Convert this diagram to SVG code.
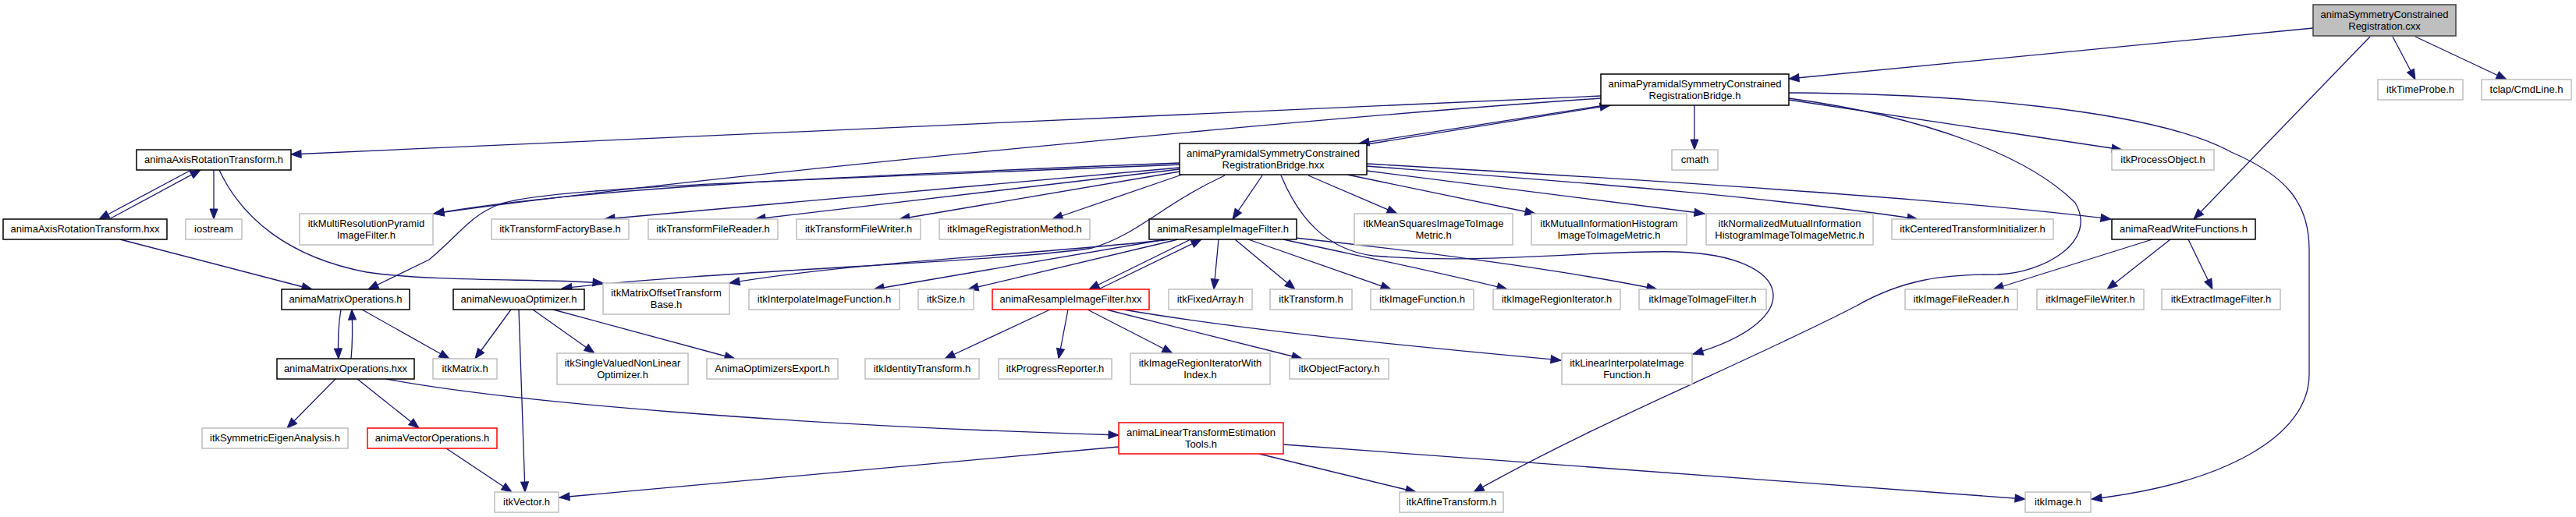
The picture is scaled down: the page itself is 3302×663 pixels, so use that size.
<svg xmlns="http://www.w3.org/2000/svg" width="3302" height="663" viewBox="0 0 3302 663">
<style>
rect{fill:#fff;stroke:#bfbfbf;stroke-width:1.5}
.d rect{stroke:#000}
.r rect{stroke:#ff0000}
.t rect{fill:#bfbfbf;stroke:#404040}
text{font-family:"Liberation Sans",Arial,Helvetica,sans-serif;font-size:13px;fill:#000;text-anchor:middle}
#edges path{fill:none;stroke:#191970;stroke-width:1.3;marker-end:url(#ah)}
</style>
<defs>
<marker id="ah" markerUnits="userSpaceOnUse" markerWidth="14" markerHeight="11" refX="13" refY="5" orient="auto" overflow="visible">
<path d="M0,0 L13,5 L0,10 z" fill="#191970" stroke="#191970" stroke-width="1"/>
</marker>
</defs>
<rect x="0" y="0" width="3302" height="663" style="fill:#fff;stroke:none"/>
<g id="edges">
<path d="M2965,36 L2293,101"/>
<path d="M3038,47 L2812,281"/>
<path d="M3067,47 L3096,102"/>
<path d="M3096,47 L3213,102"/>
<path d="M2052,123 L373,198"/>
<path d="M2052,126 C1700,150 900,225 556,274"/>
<path d="M2172,135 L2172,192"/>
<path d="M2057,135 L1742,184"/>
<path d="M1752,185 L2064,135"/>
<path d="M2293,128 L2720,192"/>
<path d="M2293,126 C2470,150 2600,200 2660,260 C2690,310 2620,350 2560,352 C2490,352 2440,358 2380,392 C2250,460 2050,540 1889,631"/>
<path d="M2293,119 C2500,120 2760,140 2860,195 C2930,225 2960,260 2960,320 L2960,480 C2960,560 2850,620 2681,640"/>
<path d="M1512,209 C1100,225 750,240 556,274"/>
<path d="M1512,211 C1000,232 700,240 640,262 C600,278 590,300 550,333 L472,371"/>
<path d="M1512,215 L775,281"/>
<path d="M1512,217 L968,281"/>
<path d="M1512,220 L1153,281"/>
<path d="M1515,224 L1349,281"/>
<path d="M1618,225 L1580,281"/>
<path d="M1570,225 C1490,262 1460,300 1400,318 C1300,335 900,348 720,370"/>
<path d="M1677,225 L1791,274"/>
<path d="M1727,224 L1968,274"/>
<path d="M1752,219 L2185,274"/>
<path d="M1752,213 C2000,232 2250,250 2458,281"/>
<path d="M1752,210 C2100,230 2500,255 2706,281"/>
<path d="M1642,225 C1665,280 1700,320 1760,328 C1900,340 2050,320 2150,323 C2300,328 2320,410 2170,454"/>
<path d="M245,218 L127,281"/>
<path d="M140,281 L257,218"/>
<path d="M274,218 L274,281"/>
<path d="M281,218 C310,280 370,330 470,349 C560,362 700,357 773,363"/>
<path d="M154,307 L400,371"/>
<path d="M437,397 C433,420 433,440 434,460"/>
<path d="M450,460 C452,440 452,420 451,397"/>
<path d="M464,397 L576,460"/>
<path d="M655,397 L609,460"/>
<path d="M665,397 L673,631"/>
<path d="M683,397 L762,453"/>
<path d="M709,397 L942,460"/>
<path d="M430,486 L368,549"/>
<path d="M458,486 L537,549"/>
<path d="M495,486 C650,515 1000,545 1434,558"/>
<path d="M572,575 L656,631"/>
<path d="M1434,573 L717,638"/>
<path d="M1614,582 L1815,631"/>
<path d="M1645,570 L2596,640"/>
<path d="M1526,307 L1396,371"/>
<path d="M1408,371 L1540,307"/>
<path d="M1500,307 C1350,325 1100,335 935,363"/>
<path d="M1494,307 L1120,371"/>
<path d="M1510,307 L1241,371"/>
<path d="M1562,307 L1556,371"/>
<path d="M1583,307 L1660,371"/>
<path d="M1600,307 L1783,371"/>
<path d="M1645,307 C1750,330 1850,350 1932,371"/>
<path d="M1660,305 C1800,320 2000,345 2124,371"/>
<path d="M1434,396 C1600,425 1850,448 2001,462"/>
<path d="M1346,397 L1211,460"/>
<path d="M1369,397 L1357,460"/>
<path d="M1394,397 L1503,453"/>
<path d="M1418,397 L1669,460"/>
<path d="M2759,307 L2555,371"/>
<path d="M2782,307 L2701,371"/>
<path d="M2805,307 L2836,371"/>
</g>
<g id="n_main" class="t"><rect x="2965" y="6" width="183" height="40"/><text x="3056.5" y="22.5">animaSymmetryConstrained</text><text x="3056.5" y="37.5">Registration.cxx</text></g>
<g id="n_bridge_h" class="d"><rect x="2052" y="95" width="241" height="40"/><text x="2172.5" y="111.5">animaPyramidalSymmetryConstrained</text><text x="2172.5" y="126.5">RegistrationBridge.h</text></g>
<g id="n_timeprobe"><rect x="3048" y="102" width="109" height="26"/><text x="3102.5" y="119">itkTimeProbe.h</text></g>
<g id="n_tclap"><rect x="3181" y="102" width="115" height="26"/><text x="3238.5" y="119">tclap/CmdLine.h</text></g>
<g id="n_bridge_hxx" class="d"><rect x="1512" y="184" width="240" height="40"/><text x="1632" y="200.5">animaPyramidalSymmetryConstrained</text><text x="1632" y="215.5">RegistrationBridge.hxx</text></g>
<g id="n_axisrot_h" class="d"><rect x="175" y="192" width="198" height="26"/><text x="274" y="209">animaAxisRotationTransform.h</text></g>
<g id="n_cmath"><rect x="2143" y="192" width="59" height="26"/><text x="2172.5" y="209">cmath</text></g>
<g id="n_processobject"><rect x="2707" y="192" width="131" height="26"/><text x="2772.5" y="209">itkProcessObject.h</text></g>
<g id="n_axisrot_hxx" class="d"><rect x="4" y="281" width="210" height="26"/><text x="109" y="298">animaAxisRotationTransform.hxx</text></g>
<g id="n_iostream"><rect x="238" y="281" width="72" height="26"/><text x="274" y="298">iostream</text></g>
<g id="n_multires"><rect x="384" y="274" width="171" height="40"/><text x="469.5" y="290.5">itkMultiResolutionPyramid</text><text x="469.5" y="305.5">ImageFilter.h</text></g>
<g id="n_tfactory"><rect x="630" y="281" width="176" height="26"/><text x="718" y="298">itkTransformFactoryBase.h</text></g>
<g id="n_tfreader"><rect x="831" y="281" width="166" height="26"/><text x="914" y="298">itkTransformFileReader.h</text></g>
<g id="n_tfwriter"><rect x="1021" y="281" width="159" height="26"/><text x="1100.5" y="298">itkTransformFileWriter.h</text></g>
<g id="n_imgreg"><rect x="1204" y="281" width="193" height="26"/><text x="1300.5" y="298">itkImageRegistrationMethod.h</text></g>
<g id="n_resample_h" class="d"><rect x="1473" y="281" width="189" height="26"/><text x="1567.5" y="298">animaResampleImageFilter.h</text></g>
<g id="n_meansq"><rect x="1736" y="274" width="203" height="40"/><text x="1837.5" y="290.5">itkMeanSquaresImageToImage</text><text x="1837.5" y="305.5">Metric.h</text></g>
<g id="n_mutual"><rect x="1963" y="274" width="199" height="40"/><text x="2062.5" y="290.5">itkMutualInformationHistogram</text><text x="2062.5" y="305.5">ImageToImageMetric.h</text></g>
<g id="n_normmutual"><rect x="2187" y="274" width="214" height="40"/><text x="2294" y="290.5">itkNormalizedMutualInformation</text><text x="2294" y="305.5">HistogramImageToImageMetric.h</text></g>
<g id="n_centered"><rect x="2425" y="281" width="207" height="26"/><text x="2528.5" y="298">itkCenteredTransformInitializer.h</text></g>
<g id="n_readwrite" class="d"><rect x="2707" y="281" width="184" height="26"/><text x="2799" y="298">animaReadWriteFunctions.h</text></g>
<g id="n_matops_h" class="d"><rect x="361" y="371" width="164" height="26"/><text x="443" y="388">animaMatrixOperations.h</text></g>
<g id="n_newuoa" class="d"><rect x="581" y="371" width="168" height="26"/><text x="665" y="388">animaNewuoaOptimizer.h</text></g>
<g id="n_matoffset"><rect x="773" y="363" width="162" height="40"/><text x="854" y="379.5">itkMatrixOffsetTransform</text><text x="854" y="394.5">Base.h</text></g>
<g id="n_interp"><rect x="960" y="371" width="193" height="26"/><text x="1056.5" y="388">itkInterpolateImageFunction.h</text></g>
<g id="n_size"><rect x="1177" y="371" width="71" height="26"/><text x="1212.5" y="388">itkSize.h</text></g>
<g id="n_resample_hxx" class="r"><rect x="1272" y="371" width="201" height="26"/><text x="1372.5" y="388">animaResampleImageFilter.hxx</text></g>
<g id="n_fixedarray"><rect x="1498" y="371" width="107" height="26"/><text x="1551.5" y="388">itkFixedArray.h</text></g>
<g id="n_transform"><rect x="1628" y="371" width="105" height="26"/><text x="1680.5" y="388">itkTransform.h</text></g>
<g id="n_imgfunc"><rect x="1757" y="371" width="132" height="26"/><text x="1823" y="388">itkImageFunction.h</text></g>
<g id="n_regioniter"><rect x="1914" y="371" width="163" height="26"/><text x="1995.5" y="388">itkImageRegionIterator.h</text></g>
<g id="n_img2img"><rect x="2101" y="371" width="163" height="26"/><text x="2182.5" y="388">itkImageToImageFilter.h</text></g>
<g id="n_filereader"><rect x="2442" y="371" width="144" height="26"/><text x="2514" y="388">itkImageFileReader.h</text></g>
<g id="n_filewriter"><rect x="2611" y="371" width="137" height="26"/><text x="2679.5" y="388">itkImageFileWriter.h</text></g>
<g id="n_extract"><rect x="2771" y="371" width="152" height="26"/><text x="2847" y="388">itkExtractImageFilter.h</text></g>
<g id="n_matops_hxx" class="d"><rect x="355" y="460" width="176" height="26"/><text x="443" y="477">animaMatrixOperations.hxx</text></g>
<g id="n_matrix"><rect x="555" y="460" width="82" height="26"/><text x="596" y="477">itkMatrix.h</text></g>
<g id="n_singlevalued"><rect x="714" y="453" width="168" height="40"/><text x="798" y="469.5">itkSingleValuedNonLinear</text><text x="798" y="484.5">Optimizer.h</text></g>
<g id="n_optexport"><rect x="906" y="460" width="168" height="26"/><text x="990" y="477">AnimaOptimizersExport.h</text></g>
<g id="n_identity"><rect x="1109" y="460" width="146" height="26"/><text x="1182" y="477">itkIdentityTransform.h</text></g>
<g id="n_progress"><rect x="1280" y="460" width="145" height="26"/><text x="1352.5" y="477">itkProgressReporter.h</text></g>
<g id="n_regioniterwi"><rect x="1449" y="453" width="179" height="40"/><text x="1538.5" y="469.5">itkImageRegionIteratorWith</text><text x="1538.5" y="484.5">Index.h</text></g>
<g id="n_objfactory"><rect x="1653" y="460" width="127" height="26"/><text x="1716.5" y="477">itkObjectFactory.h</text></g>
<g id="n_linearinterp"><rect x="2002" y="453" width="167" height="40"/><text x="2085.5" y="469.5">itkLinearInterpolateImage</text><text x="2085.5" y="484.5">Function.h</text></g>
<g id="n_symeigen"><rect x="259" y="549" width="187" height="26"/><text x="352.5" y="566">itkSymmetricEigenAnalysis.h</text></g>
<g id="n_vecops" class="r"><rect x="471" y="549" width="166" height="26"/><text x="554" y="566">animaVectorOperations.h</text></g>
<g id="n_lintransf" class="r"><rect x="1434" y="542" width="211" height="40"/><text x="1539.5" y="558.5">animaLinearTransformEstimation</text><text x="1539.5" y="573.5">Tools.h</text></g>
<g id="n_vector"><rect x="634" y="631" width="82" height="26"/><text x="675" y="648">itkVector.h</text></g>
<g id="n_affine"><rect x="1794" y="631" width="133" height="26"/><text x="1860.5" y="648">itkAffineTransform.h</text></g>
<g id="n_image"><rect x="2596" y="631" width="84" height="26"/><text x="2638" y="648">itkImage.h</text></g>
</svg>
